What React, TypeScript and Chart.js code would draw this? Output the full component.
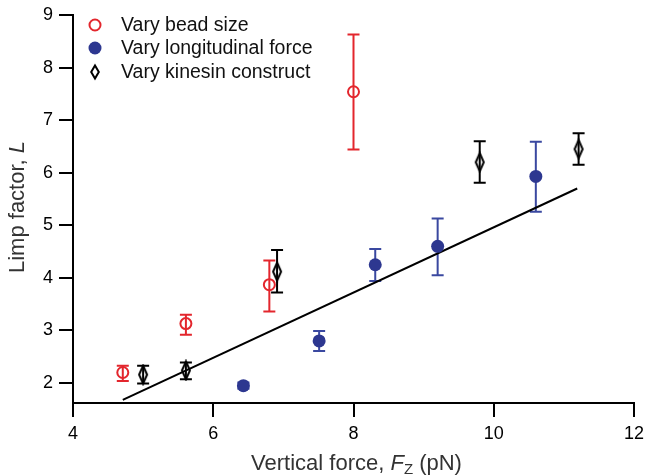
import React, { useEffect, useRef } from "react";
import { Chart, registerables } from "chart.js";

Chart.register(...registerables);

// ---- data ----
const xTicks = [4, 6, 8, 10, 12];
const yTicks = [2, 3, 4, 5, 6, 7, 8, 9];

const seriesNames = ["Vary bead size", "Vary longitudinal force", "Vary kinesin construct"];

const beadX = [4.71, 5.61, 6.8, 8.0];
const beadY = [2.2, 3.13, 3.87, 7.54];
const beadLo = [2.04, 2.92, 3.36, 6.44];
const beadHi = [2.33, 3.3, 4.33, 8.63];

const longX = [6.43, 7.51, 8.31, 9.2, 10.6];
const longY = [1.95, 2.8, 4.25, 4.6, 5.93];
const longLo = [1.89, 2.61, 3.94, 4.05, 5.26];
const longHi = [2.01, 2.99, 4.55, 5.13, 6.59];

const kinX = [5.0, 5.61, 6.91, 9.8, 11.21];
const kinY = [2.16, 2.24, 4.12, 6.2, 6.45];
const kinLo = [1.99, 2.07, 3.72, 5.81, 6.15];
const kinHi = [2.33, 2.39, 4.53, 6.6, 6.75];

const fitX = [4.71, 11.19];
const fitY = [1.68, 5.7];

// ---- styles ----
const RED = "#e3262d";
const BLUE = "#2d3790";
const BLUE_BAR = "#3a48a0";
const BLACK = "#000000";
const FONT = "'Liberation Sans', Arial, Helvetica, sans-serif";

function makeDiamond(w: number, h: number, lw: number, color: string) {
  const c = document.createElement("canvas");
  c.width = w + 2;
  c.height = h + 2;
  const g = c.getContext("2d")!;
  g.strokeStyle = color;
  g.lineWidth = lw;
  g.lineJoin = "miter";
  const cx = c.width / 2;
  const cy = c.height / 2;
  g.beginPath();
  g.moveTo(cx, cy - h / 2 + lw / 2);
  g.lineTo(cx + w / 2 - lw / 2, cy);
  g.lineTo(cx, cy + h / 2 - lw / 2);
  g.lineTo(cx - w / 2 + lw / 2, cy);
  g.closePath();
  g.stroke();
  return c;
}

const zip = (xs: number[], ys: number[]) => xs.map((x, i) => ({ x, y: ys[i] }));

const errorBars = {
  id: "errorBars",
  beforeDatasetsDraw(chart: any) {
    const { ctx, scales } = chart;
    const xs = scales.x;
    const ys = scales.y;
    const groups = [
      { X: beadX, lo: beadLo, hi: beadHi, color: RED },
      { X: longX, lo: longLo, hi: longHi, color: BLUE_BAR },
      { X: kinX, lo: kinLo, hi: kinHi, color: BLACK },
    ];
    ctx.save();
    ctx.lineWidth = 2;
    ctx.lineCap = "butt";
    for (const g of groups) {
      ctx.strokeStyle = g.color;
      g.X.forEach((x, i) => {
        const px = xs.getPixelForValue(x);
        const pl = ys.getPixelForValue(g.lo[i]);
        const ph = ys.getPixelForValue(g.hi[i]);
        ctx.beginPath();
        ctx.moveTo(px, pl);
        ctx.lineTo(px, ph);
        ctx.moveTo(px - 6, pl);
        ctx.lineTo(px + 6, pl);
        ctx.moveTo(px - 6, ph);
        ctx.lineTo(px + 6, ph);
        ctx.stroke();
      });
    }
    ctx.restore();
  },
};

const decorations = {
  id: "decorations",
  afterDraw(chart: any) {
    const { ctx, chartArea } = chart;
    ctx.save();
    // legend
    const mx = chartArea.left + 22;
    const tx = chartArea.left + 48;
    const rows = [chartArea.top + 10, chartArea.top + 33, chartArea.top + 57];
    ctx.lineWidth = 2;
    ctx.strokeStyle = RED;
    ctx.beginPath();
    ctx.arc(mx, rows[0], 5.5, 0, Math.PI * 2);
    ctx.stroke();
    ctx.fillStyle = BLUE;
    ctx.beginPath();
    ctx.arc(mx, rows[1], 6.5, 0, Math.PI * 2);
    ctx.fill();
    ctx.strokeStyle = BLACK;
    ctx.beginPath();
    ctx.moveTo(mx, rows[2] - 6.5);
    ctx.lineTo(mx + 3.8, rows[2]);
    ctx.lineTo(mx, rows[2] + 6.5);
    ctx.lineTo(mx - 3.8, rows[2]);
    ctx.closePath();
    ctx.stroke();
    ctx.fillStyle = "#111";
    ctx.font = `19.5px ${FONT}`;
    ctx.textBaseline = "middle";
    ctx.textAlign = "left";
    seriesNames.forEach((n, i) => ctx.fillText(n, tx, rows[i] + 1));

    // x title
    ctx.fillStyle = "#333";
    const segs: [string, string, number][] = [
      ["Vertical force, ", `22px ${FONT}`, 0],
      ["F", `italic 22px ${FONT}`, 0],
      ["Z", `15px ${FONT}`, 4],
      [" (pN)", `22px ${FONT}`, 0],
    ];
    let total = 0;
    for (const s of segs) {
      ctx.font = s[1];
      total += ctx.measureText(s[0]).width;
    }
    let x = (chartArea.left + chartArea.right) / 2 + 3 - total / 2;
    const base = 470;
    ctx.textBaseline = "alphabetic";
    for (const s of segs) {
      ctx.font = s[1];
      ctx.fillText(s[0], x, base + s[2]);
      x += ctx.measureText(s[0]).width;
    }

    // y title
    ctx.translate(24, 207);
    ctx.rotate(-Math.PI / 2);
    const ysegs: [string, string][] = [
      ["Limp factor, ", `22px ${FONT}`],
      ["L", `italic 22px ${FONT}`],
    ];
    let yt = 0;
    for (const s of ysegs) {
      ctx.font = s[1];
      yt += ctx.measureText(s[0]).width;
    }
    let yx = -yt / 2;
    for (const s of ysegs) {
      ctx.font = s[1];
      ctx.fillText(s[0], yx, 0);
      yx += ctx.measureText(s[0]).width;
    }
    ctx.restore();
  },
};

export default function App() {
  const ref = useRef<HTMLCanvasElement>(null);
  useEffect(() => {
    if (!ref.current) return;
    const diamond = makeDiamond(10, 20, 2, BLACK);
    const chart = new Chart(ref.current, {
      type: "scatter",
      data: {
        datasets: [
          {
            label: seriesNames[0],
            data: zip(beadX, beadY),
            pointStyle: "circle",
            pointRadius: 5.5,
            borderWidth: 2,
            borderColor: RED,
            backgroundColor: "rgba(0,0,0,0)",
            order: 1,
          },
          {
            label: seriesNames[1],
            data: zip(longX, longY),
            pointStyle: "circle",
            pointRadius: 6.5,
            borderWidth: 0,
            borderColor: BLUE,
            backgroundColor: BLUE,
            order: 1,
          },
          {
            label: seriesNames[2],
            data: zip(kinX, kinY),
            pointStyle: diamond as any,
            pointRadius: 10,
            borderColor: BLACK,
            backgroundColor: "rgba(0,0,0,0)",
            order: 1,
          },
          {
            type: "line" as any,
            label: "fit",
            data: zip(fitX, fitY),
            borderColor: BLACK,
            borderWidth: 2,
            pointRadius: 0,
            showLine: true,
            order: 10,
          } as any,
        ],
      },
      options: {
        responsive: false,
        devicePixelRatio: 1,
        animation: false,
        events: [],
        layout: { padding: { top: 15, right: 12, left: 0, bottom: 0 } },
        plugins: { legend: { display: false }, tooltip: { enabled: false } },
        scales: {
          x: {
            type: "linear",
            min: 4,
            max: 12,
            afterBuildTicks: (s: any) => {
              s.ticks = xTicks.map((v) => ({ value: v }));
            },
            afterFit: (s: any) => {
              s.height = 73;
              s.paddingLeft = 0;
              s.paddingRight = 0;
            },
            ticks: { color: "#000", font: { size: 18, family: FONT }, padding: 6, maxRotation: 0 },
            grid: { drawOnChartArea: false, drawTicks: true, tickLength: 14, color: "#000", lineWidth: 2 },
            border: { display: true, color: "#000", width: 2 },
          },
          y: {
            type: "linear",
            min: 1.62,
            max: 9,
            afterBuildTicks: (s: any) => {
              s.ticks = yTicks.map((v) => ({ value: v }));
            },
            afterFit: (s: any) => {
              s.width = 73;
              s.paddingTop = 0;
              s.paddingBottom = 0;
            },
            ticks: { color: "#000", font: { size: 18, family: FONT }, padding: 6 },
            grid: { drawOnChartArea: false, drawTicks: true, tickLength: 14, color: "#000", lineWidth: 2 },
            border: { display: true, color: "#000", width: 2 },
          },
        },
      },
      plugins: [errorBars, decorations],
    });
    return () => chart.destroy();
  }, []);
  return (
    <div style={{ position: "fixed", left: 0, top: 0, width: 646, height: 476, background: "#fff" }}>
      <canvas ref={ref} width={646} height={476} style={{ display: "block", width: 646, height: 476 }} />
    </div>
  );
}
